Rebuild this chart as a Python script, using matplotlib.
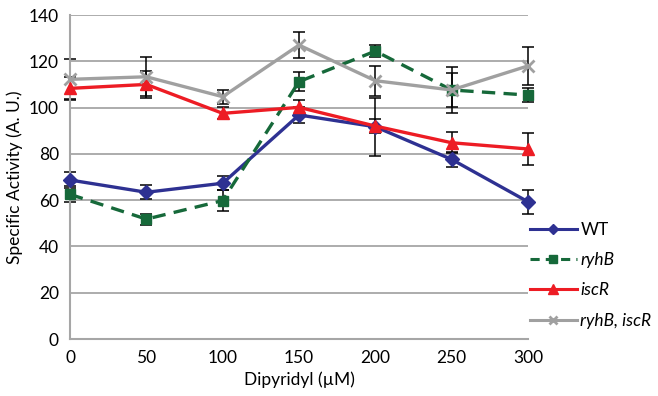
import matplotlib
matplotlib.use("Agg")
import matplotlib.pyplot as plt
from matplotlib.lines import Line2D

plt.rcParams['font.family'] = ['Lato', 'DejaVu Sans']

dipyridyl = [0, 50, 100, 150, 200, 250, 300]
x_ticks = [0, 50, 100, 150, 200, 250, 300]
y_ticks = [0, 20, 40, 60, 80, 100, 120, 140]

wt = [68.7, 63.4, 67.3, 96.8, 91.7, 77.6, 59.3]
wt_err = [3.3, 3.0, 3.0, 3.3, 12.5, 3.1, 5.2]
ryhb = [62.5, 51.8, 59.8, 111.2, 124.4, 107.6, 105.4]
ryhb_err = [3.4, 2.4, 4.7, 4.0, 2.5, 7.5, 3.2]
iscr = [108.3, 110.0, 97.5, 100.1, 92.0, 84.8, 82.1]
iscr_err = [4.7, 5.7, 2.6, 3.0, 3.0, 4.5, 7.0]
double = [112.2, 113.3, 104.7, 127.0, 111.6, 107.6, 118.0]
double_err = [9.0, 8.5, 3.0, 5.5, 6.4, 10.0, 8.3]

labels = ['WT', 'ryhB', 'iscR', 'ryhB, iscR']

fig = plt.figure(figsize=(6.58, 3.96), dpi=100)
ax = fig.add_axes([70/658, 1-339/396, (528-70)/658, (339-15)/396])

grid_c = '#a6a6a6'
for y in y_ticks:
    ax.axhline(y, color=grid_c, lw=1.3, zorder=0)

series = [
    (wt, wt_err, '#2e3192', '-', 'D', 7),
    (ryhb, ryhb_err, '#16693a', '--', 's', 6.5),
    (iscr, iscr_err, '#ed1c24', '-', '^', 9),
    (double, double_err, '#a0a0a0', '-', 'x', 8),
]
handles = []
for (vals, errs, c, ls, m, ms), lab in zip(series, labels):
    ax.errorbar(dipyridyl, vals, yerr=errs, fmt='none', ecolor='black',
                elinewidth=1.1, capsize=4, capthick=1.1, zorder=2, clip_on=False)
    ln, = ax.plot(dipyridyl, vals, color=c, ls=ls, lw=2.4, marker=m, ms=ms,
                  mew=2 if m == 'x' else 1, zorder=3, clip_on=False,
                  dashes=(4, 2.5) if ls == '--' else (None, None))
    handles.append(Line2D([0], [0], color=c, ls=ls, lw=2.2, marker=m,
                          ms=ms*0.8, mew=2 if m == 'x' else 1,
                          dashes=(3, 2) if ls == '--' else (None, None)))

ax.set_xlim(0, 300)
ax.set_ylim(0, 140)
ax.set_xticks(x_ticks)
ax.set_yticks(y_ticks)
ax.tick_params(length=0, labelsize=12.5, pad=8)
for s in ['top', 'right']:
    ax.spines[s].set_visible(False)
for s in ['left', 'bottom']:
    ax.spines[s].set_color(grid_c)
    ax.spines[s].set_linewidth(1.5)

ax.set_xlabel('Dipyridyl (µM)', fontsize=12.5, labelpad=4)
ax.set_ylabel('Specific Activity (A. U.)', fontsize=12.5, labelpad=4)

leg = fig.legend(handles, labels, loc='upper left', bbox_to_anchor=(530/658, 1-222/396),
                 frameon=False, fontsize=12.5, handlelength=2.7, handletextpad=0.2,
                 labelspacing=0.82, borderaxespad=0, borderpad=0)
for t in leg.get_texts()[1:]:
    t.set_fontstyle('italic')

fig.savefig('out.png', dpi=100)
